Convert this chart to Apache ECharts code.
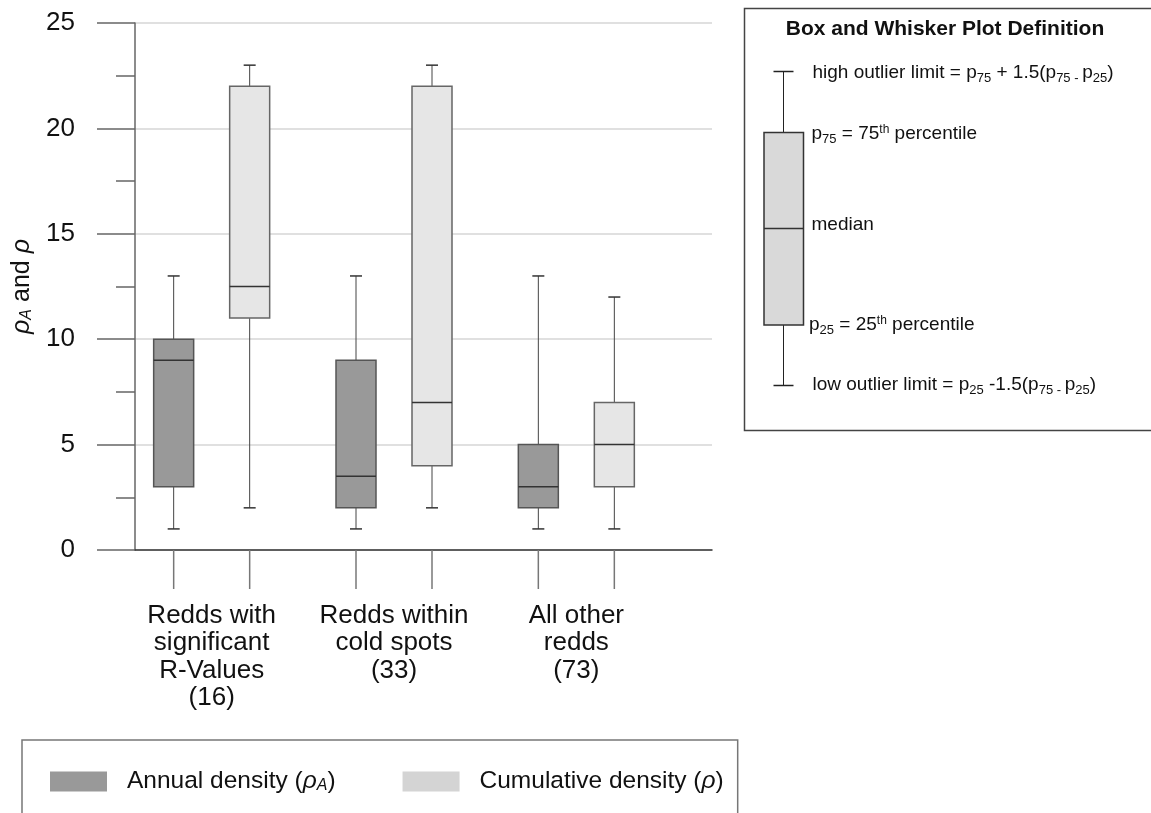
<!DOCTYPE html>
<html>
<head>
<meta charset="utf-8">
<script src="https://cdn.jsdelivr.net/npm/echarts@6/dist/echarts.min.js"></script>
<style>
html,body{margin:0;padding:0;background:#fff;}
#chart{width:1151px;height:813px;}
</style>
</head>
<body>
<div id="chart"></div>
<script>
// ---- data ----
var categories = [
  'Redds with\nsignificant\nR-Values\n(16)',
  'Redds within\ncold spots\n(33)',
  'All other\nredds\n(73)'
];
// [low whisker, p25, median, p75, high whisker]
var annualStats = [
  [1, 3, 9, 10, 13],
  [1, 2, 3.5, 9, 13],
  [1, 2, 3, 5, 13]
];
var cumulativeStats = [
  [2, 11, 12.5, 22, 23],
  [2, 4, 7, 22, 23],
  [1, 3, 5, 7, 12]
];
var yMin = 0, yMax = 25, yInterval = 5;

// ---- styles ----
var FONT = "'Liberation Sans', Arial, sans-serif";
var BOX_W = 40, OFFSET = 38, CAP_W = 12, TICK_LEN = 39;

function toSeriesData(stats) {
  return stats.map(function (s, i) { return [i].concat(s); });
}

function makeRenderItem(offset, borderColor) {
  return function (params, api) {
    var cat = api.value(0);
    var base = api.coord([cat, 0]);
    var x = base[0] + offset;
    var y0 = base[1];
    var yLo = api.coord([cat, api.value(1)])[1];
    var yQ1 = api.coord([cat, api.value(2)])[1];
    var yMed = api.coord([cat, api.value(3)])[1];
    var yQ3 = api.coord([cat, api.value(4)])[1];
    var yHi = api.coord([cat, api.value(5)])[1];
    var fill = api.visual('color');
    var wStyle = { stroke: '#444', lineWidth: 1 };
    return {
      type: 'group',
      children: [
        { type: 'line', shape: { x1: x, y1: y0, x2: x, y2: y0 + TICK_LEN }, style: { stroke: '#777', lineWidth: 1.5 } },
        { type: 'line', shape: { x1: x, y1: yHi, x2: x, y2: yQ3 }, style: wStyle },
        { type: 'line', shape: { x1: x, y1: yQ1, x2: x, y2: yLo }, style: wStyle },
        { type: 'line', shape: { x1: x - CAP_W / 2, y1: yHi, x2: x + CAP_W / 2, y2: yHi }, style: { stroke: '#333', lineWidth: 1.5 } },
        { type: 'line', shape: { x1: x - CAP_W / 2, y1: yLo, x2: x + CAP_W / 2, y2: yLo }, style: { stroke: '#333', lineWidth: 1.5 } },
        { type: 'rect', shape: { x: x - BOX_W / 2, y: yQ3, width: BOX_W, height: yQ1 - yQ3 }, style: { fill: fill, stroke: borderColor, lineWidth: 1.5 } },
        { type: 'line', shape: { x1: x - BOX_W / 2, y1: yMed, x2: x + BOX_W / 2, y2: yMed }, style: { stroke: '#333', lineWidth: 1.5 } }
      ]
    };
  };
}

var defRich = {
  n: { fontSize: 19, fontFamily: FONT, color: '#111', verticalAlign: 'middle' },
  sub: { fontSize: 13, fontFamily: FONT, color: '#111', padding: [10, 0, 0, 0], verticalAlign: 'middle' },
  sup: { fontSize: 12, fontFamily: FONT, color: '#111', padding: [0, 0, 9, 0], verticalAlign: 'middle' }
};
function defText(x, y, txt) {
  return {
    type: 'text', x: x, y: y, z: 10,
    style: { text: txt, rich: defRich, textAlign: 'left', textVerticalAlign: 'middle', fontFamily: FONT, fontSize: 19, fill: '#111' }
  };
}

var chart = echarts.init(document.getElementById('chart'), null, { renderer: 'canvas' });
var option = {
  animation: false,
  backgroundColor: '#fff',
  textStyle: { fontFamily: FONT },
  grid: [
    { left: 135, top: 23, width: 577, height: 527 },
    { left: 120.5, top: 23, width: 547, height: 527 }
  ],
  xAxis: [
    {
      gridIndex: 0, type: 'value', min: 0, max: 1,
      axisLine: { show: true, lineStyle: { color: '#333', width: 1.5 } },
      axisTick: { show: false }, axisLabel: { show: false }, splitLine: { show: false }
    },
    {
      gridIndex: 1, type: 'category', data: categories,
      axisLine: { show: false }, axisTick: { show: false },
      axisLabel: { fontSize: 26, lineHeight: 27.5, color: '#111', margin: 52, fontFamily: FONT, interval: 0 }
    }
  ],
  yAxis: [
    {
      gridIndex: 0, type: 'value', min: yMin, max: yMax, interval: yInterval,
      name: '{i|ρ}{s|A}{n| and }{i|ρ}',
      nameLocation: 'middle', nameGap: 100,
      nameTextStyle: {
        rich: {
          i: { fontSize: 25, fontStyle: 'italic', fontFamily: FONT, color: '#111', verticalAlign: 'middle' },
          s: { fontSize: 16, fontStyle: 'italic', fontFamily: FONT, color: '#111', padding: [10, 0, 0, 0], verticalAlign: 'middle' },
          n: { fontSize: 25, fontFamily: FONT, color: '#111', verticalAlign: 'middle' }
        }
      },
      axisLine: { show: true, lineStyle: { color: '#666', width: 1.5 } },
      axisTick: { show: true, length: 38, lineStyle: { color: '#666', width: 1.5 } },
      minorTick: { show: true, splitNumber: 2, length: 19, lineStyle: { color: '#666', width: 1.5 } },
      axisLabel: { fontSize: 26, color: '#111', margin: 60, fontFamily: FONT },
      splitLine: { show: true, lineStyle: { color: '#d6d6d6', width: 1.5 } }
    },
    {
      gridIndex: 1, type: 'value', min: yMin, max: yMax, show: false
    }
  ],
  legend: {
    left: 22, top: 740,
    orient: 'horizontal',
    padding: [29, 14, 40, 28],
    borderColor: '#777', borderWidth: 1.5,
    itemWidth: 57, itemHeight: 20, itemGap: 67,
    icon: 'rect',
    data: [
      { name: 'Annual density', itemStyle: { color: '#999999' } },
      { name: 'Cumulative density', itemStyle: { color: '#d4d4d4' } }
    ],
    formatter: function (name) {
      if (name === 'Annual density') return '{n|Annual density (}{i|ρ}{s|A}{n|)}';
      return '{n|Cumulative density (}{i|ρ}{n|)}';
    },
    textStyle: {
      padding: [0, 0, 0, 15],
      rich: {
        n: { fontSize: 24.5, fontFamily: FONT, color: '#111', verticalAlign: 'middle' },
        i: { fontSize: 24.5, fontStyle: 'italic', fontFamily: FONT, color: '#111', verticalAlign: 'middle' },
        s: { fontSize: 16, fontStyle: 'italic', fontFamily: FONT, color: '#111', padding: [9, 0, 0, 0], verticalAlign: 'middle' }
      }
    }
  },
  series: [
    {
      name: 'Annual density', type: 'custom',
      xAxisIndex: 1, yAxisIndex: 1,
      itemStyle: { color: '#999999' },
      encode: { x: 0, y: [1, 2, 3, 4, 5] },
      renderItem: makeRenderItem(-OFFSET, '#555'),
      data: toSeriesData(annualStats)
    },
    {
      name: 'Cumulative density', type: 'custom',
      xAxisIndex: 1, yAxisIndex: 1,
      itemStyle: { color: '#e6e6e6' },
      encode: { x: 0, y: [1, 2, 3, 4, 5] },
      renderItem: makeRenderItem(OFFSET, '#666'),
      data: toSeriesData(cumulativeStats)
    }
  ],
  graphic: {
    elements: [
      { type: 'rect', shape: { x: 744.5, y: 8.5, width: 430, height: 422 }, style: { fill: '#fff', stroke: '#444', lineWidth: 1.5 }, z: 1 },
      { type: 'text', x: 945, y: 29, z: 10, style: { text: 'Box and Whisker Plot Definition', font: 'bold 21px ' + FONT, fill: '#111', textAlign: 'center', textVerticalAlign: 'middle' } },
      { type: 'line', shape: { x1: 783.5, y1: 71.5, x2: 783.5, y2: 132.5 }, style: { stroke: '#222', lineWidth: 1 }, z: 5 },
      { type: 'line', shape: { x1: 773.5, y1: 71.5, x2: 793.5, y2: 71.5 }, style: { stroke: '#222', lineWidth: 1.5 }, z: 5 },
      { type: 'line', shape: { x1: 783.5, y1: 325, x2: 783.5, y2: 385.5 }, style: { stroke: '#222', lineWidth: 1 }, z: 5 },
      { type: 'line', shape: { x1: 773.5, y1: 385.5, x2: 793.5, y2: 385.5 }, style: { stroke: '#222', lineWidth: 1.5 }, z: 5 },
      { type: 'rect', shape: { x: 764, y: 132.5, width: 39.5, height: 192.5 }, style: { fill: '#d9d9d9', stroke: '#333', lineWidth: 1.5 }, z: 5 },
      { type: 'line', shape: { x1: 764, y1: 228.5, x2: 803.5, y2: 228.5 }, style: { stroke: '#333', lineWidth: 1.5 }, z: 6 },
      defText(812.5, 73, '{n|high outlier limit = p}{sub|75}{n| + 1.5(p}{sub|75 - }{n|p}{sub|25}{n|)}'),
      defText(811.5, 134, '{n|p}{sub|75}{n| = 75}{sup|th}{n| percentile}'),
      defText(811.5, 225, '{n|median}'),
      defText(809, 325, '{n|p}{sub|25}{n| = 25}{sup|th}{n| percentile}'),
      defText(812.5, 385, '{n|low outlier limit = p}{sub|25}{n| -1.5(p}{sub|75 - }{n|p}{sub|25}{n|)}')
    ]
  }
};
chart.setOption(option);
</script>
</body>
</html>
